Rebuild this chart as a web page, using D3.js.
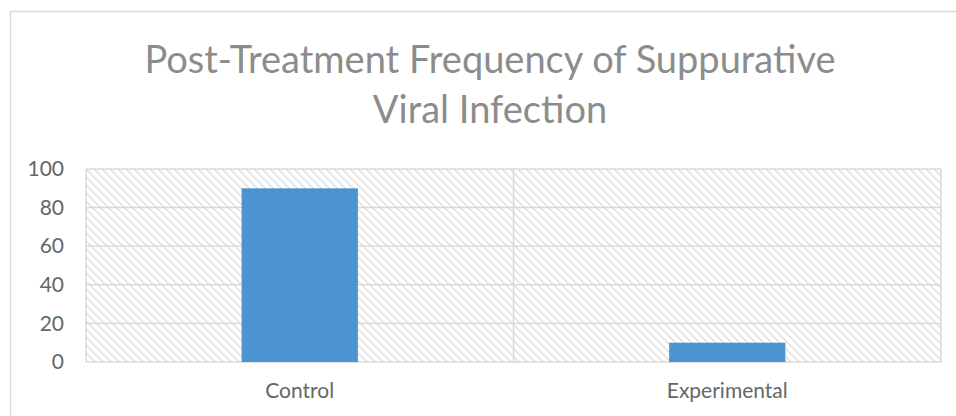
<!DOCTYPE html>
<html>
<head>
<meta charset="utf-8">
<script src="https://cdn.jsdelivr.net/npm/d3@7"></script>
<style>
  body { margin: 0; background: #fff; }
  svg text { font-family: Lato, "Open Sans", sans-serif; }
</style>
</head>
<body>
<div id="chart"></div>
<script>
const categories = ["Control", "Experimental"];
const values = [90, 10];
const yTicks = [0, 20, 40, 60, 80, 100];
const titleLines = ["Post-Treatment Frequency of Suppurative", "Viral Infection"];

const W = 956, H = 416;
const margin = {top: 169, right: 15, bottom: 54, left: 86};
const width = W - margin.left - margin.right,
      height = H - margin.top - margin.bottom;

const svg = d3.select("#chart")
  .append("svg")
    .attr("width", W)
    .attr("height", H);

// hatch pattern for plot background
const defs = svg.append("defs");
const pat = defs.append("pattern")
    .attr("id", "hatch")
    .attr("patternUnits", "userSpaceOnUse")
    .attr("width", 8)
    .attr("height", 8);
pat.append("path")
    .attr("d", "M-2,-2 L10,10 M-2,6 L2,10 M6,-2 L10,2")
    .attr("stroke", "#dddddd")
    .attr("stroke-width", 1.4);

// outer chart border (only top/left visible)
svg.append("rect")
    .attr("x", 10.5).attr("y", 11.5)
    .attr("width", W + 20).attr("height", H + 20)
    .attr("fill", "none")
    .attr("stroke", "#d9d9d9")
    .attr("stroke-width", 1.5);

// title
svg.append("text")
    .attr("text-anchor", "middle")
    .attr("fill", "#8c8c8c")
    .attr("font-size", "38px")
    .selectAll("tspan")
    .data(titleLines)
    .join("tspan")
      .attr("x", 490)
      .attr("y", (d, i) => 73 + i * 50)
      .text(d => d);

const g = svg.append("g")
    .attr("transform", `translate(${margin.left},${margin.top})`);

const x = d3.scaleBand()
    .domain(categories)
    .range([0, width])
    .paddingInner(0)
    .paddingOuter(0);

const y = d3.scaleLinear()
    .domain([0, 100])
    .range([height, 0]);

g.append("rect")
    .attr("width", width)
    .attr("height", height)
    .attr("fill", "url(#hatch)");

// horizontal gridlines
g.append("g")
  .selectAll("line")
  .data(yTicks)
  .join("line")
    .attr("x1", 0).attr("x2", width)
    .attr("y1", d => y(d)).attr("y2", d => y(d))
    .attr("stroke", "#d9d9d9")
    .attr("stroke-width", 1.5);

// vertical lines at category boundaries
const bounds = [0, ...categories.map(c => x(c) + x.bandwidth())];
g.append("g")
  .selectAll("line")
  .data(bounds)
  .join("line")
    .attr("x1", d => d).attr("x2", d => d)
    .attr("y1", 0).attr("y2", height)
    .attr("stroke", "#d9d9d9")
    .attr("stroke-width", 1.5);

// bars
const barW = x.bandwidth() * 0.272;
g.append("g")
  .selectAll("rect")
  .data(values)
  .join("rect")
    .attr("x", (d, i) => x(categories[i]) + (x.bandwidth() - barW) / 2)
    .attr("y", d => y(d))
    .attr("width", barW)
    .attr("height", d => height - y(d))
    .attr("fill", "#4b94cf");

// y axis labels
const yAxis = g.append("g")
    .call(d3.axisLeft(y).tickValues(yTicks).tickSize(0).tickPadding(22));
yAxis.select(".domain").remove();
yAxis.selectAll("text")
    .attr("font-family", "Lato, 'Open Sans', sans-serif")
    .attr("font-size", "21px")
    .attr("fill", "#666666");

// x axis labels
const xAxis = g.append("g")
    .attr("transform", `translate(0,${height})`)
    .call(d3.axisBottom(x).tickSize(0).tickPadding(21));
xAxis.select(".domain").remove();
xAxis.selectAll("text")
    .attr("font-family", "Lato, 'Open Sans', sans-serif")
    .attr("font-size", "21px")
    .attr("fill", "#666666");
</script>
</body>
</html>
